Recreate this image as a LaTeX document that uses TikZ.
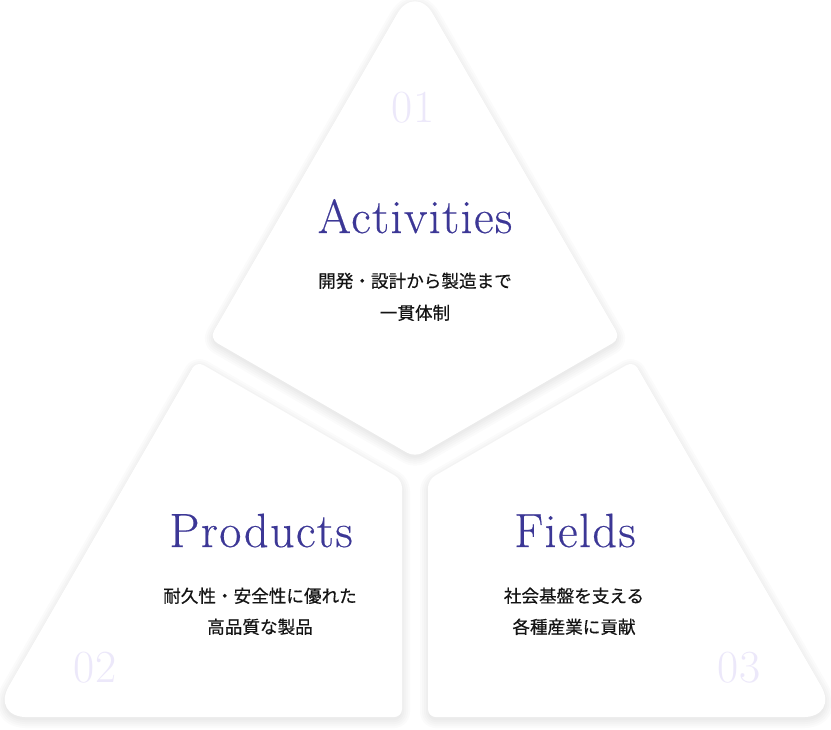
\documentclass[tikz,border=0pt]{standalone}
\usepackage{fontspec}
\newfontfamily\jpfont[FakeBold=0.5]{Noto Sans CJK JP}
\newfontfamily\titlefont[LetterSpace=3,FakeBold=0.4]{Latin Modern Roman}
\definecolor{titlecol}{RGB}{60,55,150}
\definecolor{numcol}{RGB}{236,232,250}
\definecolor{jpcol}{RGB}{20,20,20}
\newcommand\kiteshape[1]{\path[#1] (312.25,160.8) [rounded corners=36pt] -- (415,-17) [rounded corners=9pt] -- (620.5,338.6) -- (415,457.3) -- (209.5,338.6) -- cycle;}
\newcommand\leftshape[1]{\path[#1] (196.5,717.1) [rounded corners=8pt] -- (402,717.1) -- (402,479.8) -- (196.5,361.1) [rounded corners=36pt] -- (-9,717.1) [rounded corners=8pt] -- cycle;}
\newcommand\rightshape[1]{\path[#1] (633.5,717.1) [rounded corners=36pt] -- (839,717.1) [rounded corners=8pt] -- (633.5,361.1) -- (428,479.8) -- (428,717.1) -- cycle;}
\begin{document}
\begin{tikzpicture}[x=1pt,y=-1pt,
  title/.style={text=titlecol, font=\titlefont\fontsize{48}{48}\selectfont, anchor=base, inner sep=0pt},
  num/.style={text=numcol, font=\fontsize{46}{46}\selectfont, anchor=base, inner sep=0pt},
  jp/.style={text=jpcol, font=\jpfont\fontsize{17.6}{17.6}\selectfont, anchor=base, inner sep=0pt},
  shadelayer/.style={fill=black, draw=black, line width=#1, line join=round, yshift=-3pt},
  panel/.style={fill=white}]
\useasboundingbox (0,0) rectangle (831,730);
\fill[white] (0,0) rectangle (831,730);
% soft shadows (stacked dilated layers)
\foreach \w in {0.1,4,8,12,16} {
  \begin{scope}[transparency group, opacity=0.016]
    \kiteshape{shadelayer=\w pt}
  \end{scope}
  \begin{scope}[transparency group, opacity=0.016]
    \leftshape{shadelayer=\w pt}
  \end{scope}
  \begin{scope}[transparency group, opacity=0.016]
    \rightshape{shadelayer=\w pt}
  \end{scope}
}
% panels
\kiteshape{panel}
\leftshape{panel}
\rightshape{panel}
% panel 01
\node[num] (n1) at (413,123) {01};
\node[title] (t1) at (415,233) {Activities};
\node[jp] (j1a) at (415,287.5) {開発・設計から製造まで};
\node[jp] (j1b) at (415,319.5) {一貫体制};
% panel 02
\node[num] (n2) at (95,682) {02};
\node[title] (t2) at (261,547) {Products};
\node[jp] (j2a) at (260,602.5) {耐久性・安全性に優れた};
\node[jp] (j2b) at (260,633.5) {高品質な製品};
% panel 03
\node[num] (n3) at (739,682) {03};
\node[title] (t3) at (575,547) {Fields};
\node[jp] (j3a) at (574,602.5) {社会基盤を支える};
\node[jp] (j3b) at (574,633.5) {各種産業に貢献};
\end{tikzpicture}
\end{document}
